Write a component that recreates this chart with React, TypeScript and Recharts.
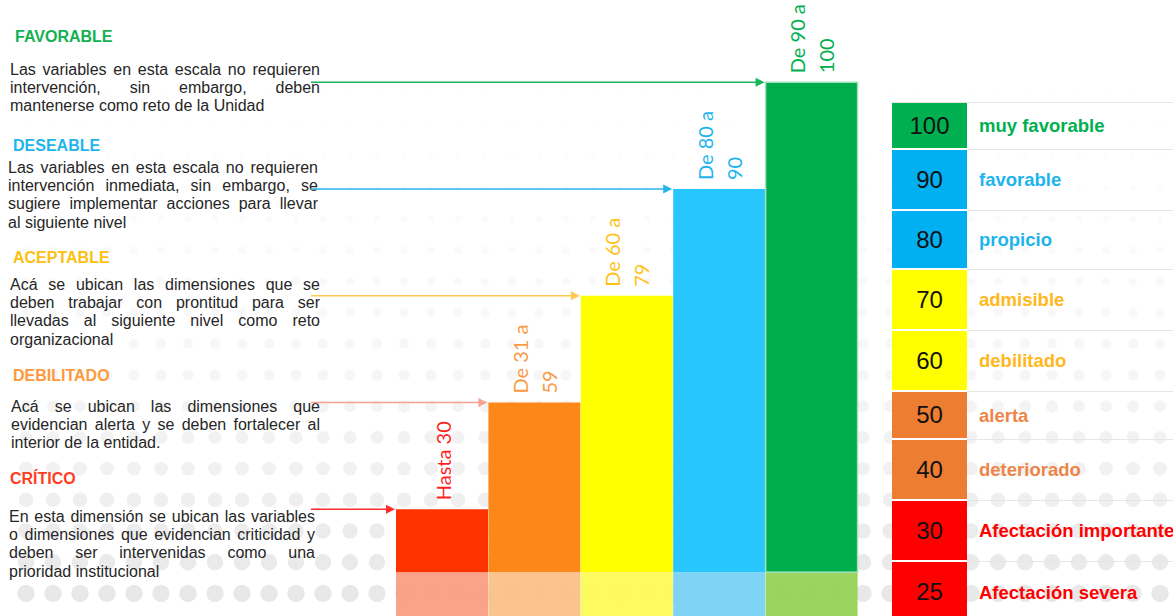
import React from 'react';
import { BarChart, Bar, Cell, XAxis, YAxis } from 'recharts';

const W = 1173;
const H = 616;

// step chart: one bar per level, equal steps
const categories = ['Crítico', 'Debilitado', 'Aceptable', 'Deseable', 'Favorable'];
const levels = [1, 2, 3, 4, 5];
const rangeLabels = [['Hasta 30'], ['De 31 a', '59'], ['De 60 a', '79'], ['De 80 a', '90'], ['De 90 a', '100']];
const bandLevel = 0.41;

// scale table on the right
const scoreValues = [100, 90, 80, 70, 60, 50, 40, 30, 25];
const scoreLabels = [
  'muy favorable',
  'favorable',
  'propicio',
  'admisible',
  'debilitado',
  'alerta',
  'deteriorado',
  'Afectación importante',
  'Afectación severa',
];

const notes = [
  {
    title: 'FAVORABLE',
    lines: ['Las variables en esta escala no requieren', 'intervención, sin embargo, deben', 'mantenerse como reto de la Unidad'],
  },
  {
    title: 'DESEABLE',
    lines: [
      'Las variables en esta escala no requieren',
      'intervención inmediata, sin embargo, se',
      'sugiere implementar acciones para llevar',
      'al siguiente nivel',
    ],
  },
  {
    title: 'ACEPTABLE',
    lines: [
      'Acá se ubican las dimensiones que se',
      'deben trabajar con prontitud para ser',
      'llevadas al siguiente nivel como reto',
      'organizacional',
    ],
  },
  {
    title: 'DEBILITADO',
    lines: ['Acá se ubican las dimensiones que', 'evidencian alerta y se deben fortalecer al', 'interior de la entidad.'],
  },
  {
    title: 'CRÍTICO',
    lines: [
      'En esta dimensión se ubican las variables',
      'o dimensiones que evidencian criticidad y',
      'deben ser intervenidas como una',
      'prioridad institucional',
    ],
  },
];

// colours, bottom-to-top order
const BAR_COLORS = ['#ff3300', '#fd8719', '#ffff00', '#27c6fe', '#00ad4c'];
const BAND_COLORS = ['#fa9a80', '#fbbe84', '#fdfb52', '#74cff3', '#92d050'];
const ARROW_COLORS = ['#ff2b2b', '#f5a393', '#ffc94d', '#27b4ea', '#17b45a'];
const LABEL_COLORS = ['#ff1f1f', '#fa9a45', '#ffc21a', '#1db4ec', '#00b050'];
const NOTE_COLORS = ['#12b252', '#1fb5ec', '#fdc010', '#fd9a3e', '#ff3d1f'];

const SCORE_BG = ['#00b050', '#00b0f0', '#00b0f0', '#ffff00', '#ffff00', '#ed7d31', '#ed7d31', '#ff0000', '#ff0000'];
const SCORE_TEXT = ['#00b050', '#1db4ee', '#1db4ee', '#ffb81c', '#ffb81c', '#ee8548', '#ee8548', '#ff0000', '#ff0000'];
const ROW_HEIGHTS = [47, 61, 59, 61, 61, 48, 61, 61, 62];

const NOTE_LAYOUT = [
  { titleX: 15, titleY: 37, textX: 10, textY: 70, width: 310 },
  { titleX: 13, titleY: 146, textX: 8, textY: 168, width: 310 },
  { titleX: 13, titleY: 258, textX: 10, textY: 285, width: 310 },
  { titleX: 13, titleY: 376, textX: 11, textY: 407, width: 309 },
  { titleX: 10, titleY: 479, textX: 9, textY: 517, width: 306 },
];

const data = categories.map((name, i) => ({
  name,
  band: bandLevel,
  upper: levels[i] - bandLevel,
}));

const ARROW_START = 311;

const StepShape = (props: any) => {
  const { x, y, width, height, index } = props;
  const cx = x + width / 2;
  const lines = rangeLabels[index];
  const ty = y - 9;
  const offsets = lines.length === 1 ? [1] : [-14.5, 14.5];
  return (
    <g>
      <rect
        x={x}
        y={y}
        width={width}
        height={height}
        fill={BAR_COLORS[index]}
        stroke={index === 4 ? '#a6e3bd' : 'none'}
        strokeWidth={1.5}
      />
      <line x1={ARROW_START} y1={y} x2={x - 8} y2={y} stroke={ARROW_COLORS[index]} strokeWidth={1.6} />
      <path d={`M${x - 1},${y} L${x - 10},${y - 4.5} L${x - 10},${y + 4.5} Z`} fill={ARROW_COLORS[index]} />
      {lines.map((t, k) => {
        const lx = cx + offsets[k];
        return (
          <text
            key={k}
            x={lx}
            y={ty}
            transform={`rotate(-90 ${lx} ${ty})`}
            textAnchor="start"
            dominantBaseline="central"
            fill={LABEL_COLORS[index]}
            fontFamily="Lato, 'Open Sans', sans-serif"
            fontSize={20}
          >
            {t}
          </text>
        );
      })}
    </g>
  );
};

// faint dotted backdrop, dots growing toward the bottom
const Dots = () => {
  const dots = [];
  for (let r = 0; r < 18; r++) {
    const cy = 63 + r * 31.2;
    const rad = 1 + r * 0.45;
    const t = r / 17;
    const op = 0.08 + t * t * 0.85;
    for (let c = 0; c < 44; c++) {
      dots.push(<circle key={`${r}-${c}`} cx={26 + c * 27} cy={cy} r={rad} fill="#e6e6e6" opacity={op} />);
    }
  }
  return (
    <svg width={W} height={H} style={{ position: 'absolute', left: 0, top: 0 }}>
      {dots}
    </svg>
  );
};

const Notes = () => (
  <>
    {notes.map((n, i) => {
      const l = NOTE_LAYOUT[i];
      return (
        <React.Fragment key={n.title}>
          <div
            style={{
              position: 'absolute',
              left: l.titleX,
              top: l.titleY - 10,
              lineHeight: '20px',
              fontSize: 16,
              fontWeight: 700,
              color: NOTE_COLORS[i],
              whiteSpace: 'nowrap',
            }}
          >
            {n.title}
          </div>
          {n.lines.map((t, k) => {
            const last = k === n.lines.length - 1;
            return (
              <div
                key={k}
                style={{
                  position: 'absolute',
                  left: l.textX,
                  top: l.textY - 9 + k * 18.2,
                  width: l.width,
                  height: 18,
                  lineHeight: '18px',
                  fontSize: 16,
                  color: '#262626',
                  textAlign: last ? 'left' : 'justify',
                  textAlignLast: last ? 'left' : 'justify',
                  overflow: 'hidden',
                }}
              >
                {t}
              </div>
            );
          })}
        </React.Fragment>
      );
    })}
  </>
);

const ScoreTable = () => (
  <div style={{ position: 'absolute', left: 892, top: 102, width: 300, borderTop: '1px solid #e6e6e6' }}>
    {scoreValues.map((v, i) => (
      <div key={v} style={{ display: 'flex', height: ROW_HEIGHTS[i] }}>
        <div
          style={{
            width: 75,
            background: SCORE_BG[i],
            borderBottom: '2px solid #fff',
            boxSizing: 'border-box',
            display: 'flex',
            alignItems: 'center',
            justifyContent: 'center',
            fontSize: 24,
            color: '#111',
          }}
        >
          {v}
        </div>
        <div
          style={{
            flex: 1,
            borderBottom: '1px solid #e6e6e6',
            boxSizing: 'border-box',
            display: 'flex',
            alignItems: 'center',
            paddingLeft: 12,
            fontSize: 18.5,
            fontWeight: 700,
            color: SCORE_TEXT[i],
            whiteSpace: 'nowrap',
          }}
        >
          {scoreLabels[i]}
        </div>
      </div>
    ))}
  </div>
);

export default function App() {
  return (
    <div
      style={{
        position: 'fixed',
        left: 0,
        top: 0,
        width: W,
        height: H,
        overflow: 'hidden',
        background: '#fff',
        fontFamily: '"Liberation Sans", Arial, sans-serif',
      }}
    >
      <Dots />
      <Notes />
      <div style={{ position: 'absolute', left: 0, top: 0 }}>
        <BarChart
          width={W}
          height={H}
          data={data}
          margin={{ top: 0, right: 315, bottom: 0, left: 396 }}
          barCategoryGap={0}
          barGap={0}
        >
          <XAxis dataKey="name" hide />
          <YAxis hide type="number" domain={[0, 5.77]} allowDataOverflow />
          <Bar dataKey="band" stackId="s" isAnimationActive={false}>
            {data.map((d, i) => (
              <Cell key={d.name} fill={BAND_COLORS[i]} fillOpacity={0.92} />
            ))}
          </Bar>
          <Bar dataKey="upper" stackId="s" isAnimationActive={false} shape={StepShape} />
        </BarChart>
      </div>
      <ScoreTable />
    </div>
  );
}
